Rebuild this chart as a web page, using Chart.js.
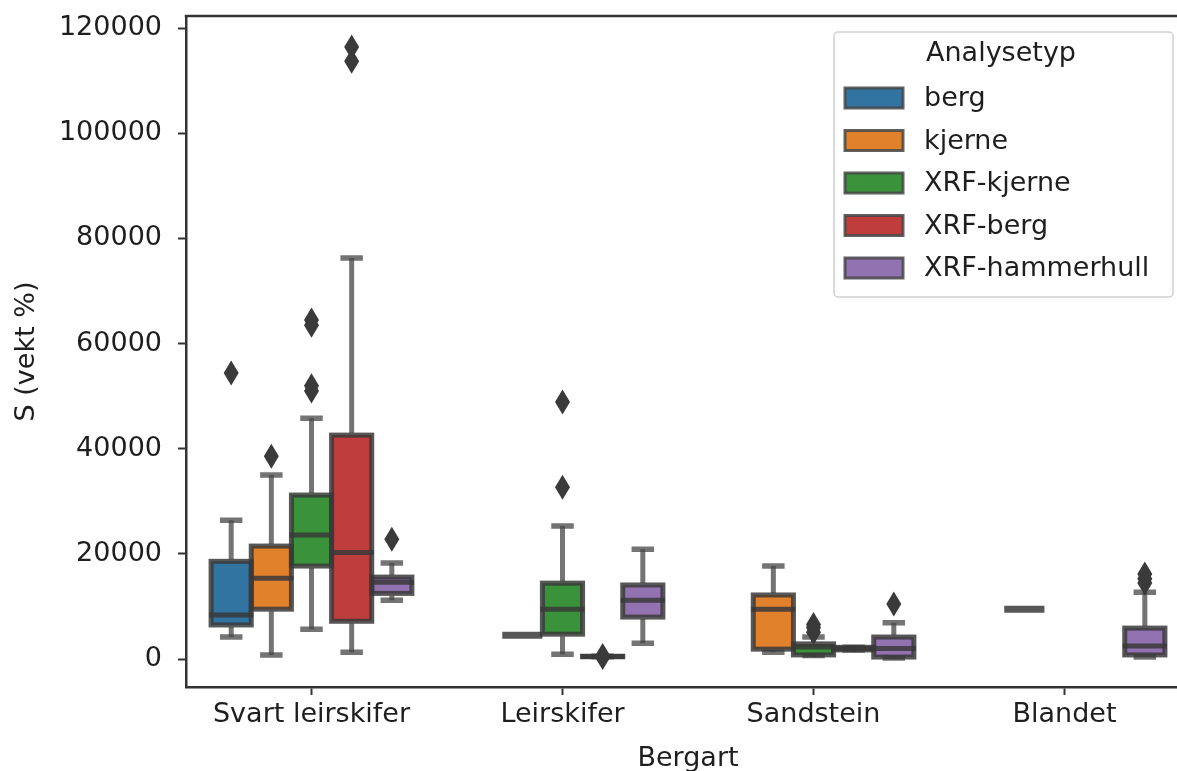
<!DOCTYPE html>
<html>
<head>
<meta charset="utf-8">
<script src="https://cdn.jsdelivr.net/npm/chart.js@4/dist/chart.umd.min.js"></script>
<style>
    html, body { margin: 0; padding: 0; overflow: hidden; background: #fff; }
    #wrap { width: 1200px; height: 790px; }
</style>
</head>
<body>
<div id="wrap"><canvas id="chart" width="1200" height="790"></canvas></div>
<script>
// Data
const categories = ['Svart leirskifer', 'Leirskifer', 'Sandstein', 'Blandet'];
const hues = ['berg', 'kjerne', 'XRF-kjerne', 'XRF-berg', 'XRF-hammerhull'];
const yTicks = [0, 20000, 40000, 60000, 80000, 100000, 120000];

// [nedre whisker, q1, median, q3, øvre whisker] per bergart
const berg = [[4200, 6500, 8400, 18600, 26400], null, null, null];
const kjerne = [[800, 9500, 15400, 21500, 35000], [4560, 4560, 4560, 4560, 4560], [1300, 1900, 9500, 12200, 17700], [9500, 9500, 9500, 9500, 9500]];
const xrfKjerne = [[5700, 17700, 23600, 31200, 45800], [950, 4750, 9500, 14450, 25300], [700, 800, 2300, 2900, 4200], null];
const xrfBerg = [[1300, 7200, 20300, 42600, 76300], [450, 450, 500, 550, 550], [1750, 1750, 2000, 2250, 2250], null];
const xrfHammer = [[11200, 12500, 14600, 15600, 18300], [3000, 8000, 11200, 14100, 20900], [200, 400, 2000, 4200, 6900], [400, 800, 2500, 5900, 12700]];

// uteliggere
const bergOut = [[54400], [], [], []];
const kjerneOut = [[38600], [], [], []];
const xrfKjerneOut = [[51000, 52000, 63500, 64500], [32700, 48900], [5100, 6000, 6600], []];
const xrfBergOut = [[113700, 116400], [300, 700], [], []];
const xrfHammerOut = [[22800], [], [10500], [14500, 15300, 16200]];

const allStats = [berg, kjerne, xrfKjerne, xrfBerg, xrfHammer];
const allOut = [bergOut, kjerneOut, xrfKjerneOut, xrfBergOut, xrfHammerOut];
const colors = ['#3274a1', '#e1812c', '#3a923a', '#c03d3e', '#9372b2'];

const edgeColor = 'rgba(58,58,58,0.85)';
const whiskerColor = 'rgba(70,70,70,0.75)';
const fontFamily = "'DejaVu Sans', sans-serif";
const textColor = '#1e1e1e';

// whiskers, median, outliers
const boxExtras = {
    id: 'boxExtras',
    afterDatasetsDraw(chart) {
        const ctx = chart.ctx;
        const yScale = chart.scales.y;
        const py = v => yScale.getPixelForValue(v);
        ctx.save();
        allStats.forEach((stats, d) => {
            const meta = chart.getDatasetMeta(d);
            stats.forEach((s, i) => {
                if (!s) return;
                const el = meta.data[i];
                const x = el.x, w = el.width;
                const [lo, q1, med, q3, hi] = s;

                ctx.lineCap = 'butt';
                if (q1 === q3) {
                    ctx.strokeStyle = edgeColor;
                    ctx.lineWidth = 7;
                    ctx.beginPath();
                    ctx.moveTo(x - w / 2, py(med));
                    ctx.lineTo(x + w / 2, py(med));
                    ctx.stroke();
                } else {
                    // whiskers
                    ctx.strokeStyle = whiskerColor;
                    ctx.lineWidth = 5;
                    ctx.beginPath();
                    ctx.moveTo(x, py(q3) - 2);
                    ctx.lineTo(x, py(hi));
                    ctx.moveTo(x, py(q1) + 2);
                    ctx.lineTo(x, py(lo));
                    ctx.stroke();
                    // caps
                    ctx.lineWidth = 5.5;
                    ctx.beginPath();
                    ctx.moveTo(x - w * 0.28, py(hi));
                    ctx.lineTo(x + w * 0.28, py(hi));
                    ctx.moveTo(x - w * 0.28, py(lo));
                    ctx.lineTo(x + w * 0.28, py(lo));
                    ctx.stroke();
                    // median
                    ctx.strokeStyle = edgeColor;
                    ctx.lineWidth = 5;
                    ctx.beginPath();
                    ctx.moveTo(x - w / 2 - 2, py(med));
                    ctx.lineTo(x + w / 2 + 2, py(med));
                    ctx.stroke();
                    // box edge, centred on the box boundary
                    const top = py(q3), bot = py(q1);
                    ctx.lineWidth = 5;
                    ctx.strokeRect(x - w / 2, top, w, bot - top);
                }

                // outliers (tynn diamant)
                ctx.fillStyle = '#3a3a3a';
                allOut[d][i].forEach(v => {
                    const y = py(v);
                    ctx.beginPath();
                    ctx.moveTo(x, y - 12.5);
                    ctx.lineTo(x + 7.5, y);
                    ctx.lineTo(x, y + 12.5);
                    ctx.lineTo(x - 7.5, y);
                    ctx.closePath();
                    ctx.fill();
                });
            });
        });
        ctx.restore();
    },
    afterDraw(chart) {
        const ctx = chart.ctx;
        const area = chart.chartArea;
        ctx.save();
        // top + right spine
        ctx.strokeStyle = '#333';
        ctx.lineWidth = 2.5;
        ctx.beginPath();
        ctx.moveTo(area.left - 1.25, area.top);
        ctx.lineTo(area.right, area.top);
        ctx.lineTo(area.right, area.bottom);
        ctx.stroke();

        // legend
        const lx = 834, ly = 32, lw = 339, lh = 265;
        ctx.fillStyle = 'rgba(255,255,255,0.8)';
        ctx.strokeStyle = '#d0d0d0';
        ctx.lineWidth = 1.5;
        ctx.beginPath();
        ctx.roundRect(lx, ly, lw, lh, 4);
        ctx.fill();
        ctx.stroke();

        ctx.font = `27px ${fontFamily}`;
        ctx.fillStyle = textColor;
        ctx.textBaseline = 'middle';
        ctx.textAlign = 'center';
        ctx.fillText('Analysetyp', 1001, 54);
        ctx.textAlign = 'left';
        hues.forEach((h, k) => {
            const cy = 98 + k * 42.5;
            ctx.fillStyle = colors[k];
            ctx.fillRect(845, cy - 10, 58, 20);
            ctx.strokeStyle = 'rgba(70,70,70,0.85)';
            ctx.lineWidth = 3;
            ctx.strokeRect(845, cy - 10, 58, 20);
            ctx.fillStyle = textColor;
            ctx.fillText(h, 924, cy + 1);
        });
        ctx.restore();
    }
};

const datasets = hues.map((h, k) => ({
    label: h,
    data: allStats[k].map(s => s ? [s[1], s[3]] : null),
    backgroundColor: colors[k],
    borderWidth: 0,
    borderSkipped: false,
    categoryPercentage: 0.8,
    barPercentage: 1.0
}));

const ctx = document.getElementById('chart').getContext('2d');
const chart = new Chart(ctx, {
    type: 'bar',
    data: { labels: categories, datasets: datasets },
    options: {
        responsive: false,
        animation: false,
        layout: { padding: { top: 16, right: 10, left: 0, bottom: 0 } },
        plugins: {
            legend: { display: false },
            tooltip: { enabled: false }
        },
        scales: {
            x: {
                offset: true,
                grid: { offset: false, drawOnChartArea: false, drawTicks: true, tickLength: 8, tickColor: '#333', tickWidth: 2 },
                border: { color: '#333', width: 2.5 },
                ticks: { color: textColor, font: { family: fontFamily, size: 27 }, padding: 4, maxRotation: 0 },
                title: { display: true, text: 'Bergart', color: textColor, font: { family: fontFamily, size: 27 }, padding: { top: 0, bottom: 15 } },
                afterFit: s => { s.height = 103; s.paddingLeft = 0; s.paddingRight = 0; }
            },
            y: {
                min: -5300,
                max: 122300,
                afterBuildTicks: s => { s.ticks = yTicks.map(v => ({ value: v })); },
                grid: { drawOnChartArea: false, drawTicks: true, tickLength: 8, tickColor: '#333', tickWidth: 2 },
                border: { color: '#333', width: 2.5 },
                ticks: { color: textColor, font: { family: fontFamily, size: 27 }, padding: 16, callback: v => String(v) },
                title: { display: true, text: 'S (vekt %)', color: textColor, font: { family: fontFamily, size: 27 }, padding: { top: 11, bottom: 0 } },
                afterFit: s => { s.width = 186; s.paddingTop = 0; s.paddingBottom = 0; }
            }
        }
    },
    plugins: [boxExtras]
});
</script>
</body>
</html>
